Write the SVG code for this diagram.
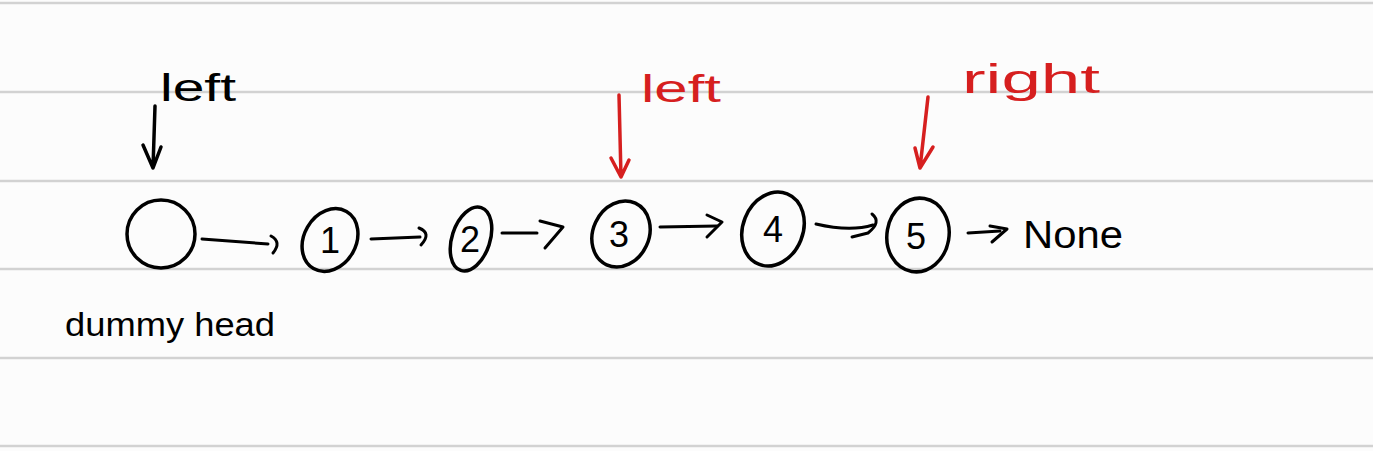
<svg xmlns="http://www.w3.org/2000/svg" width="1373" height="451" viewBox="0 0 1373 451">
<defs>
<style>
.rule{stroke:#d2d2d2;stroke-width:2.5}
.node{fill:none;stroke:#000;stroke-width:3.5}
.num{font-family:"Liberation Sans",sans-serif;font-size:36px;fill:#000;text-anchor:middle}
.hw{font-family:"Liberation Sans",sans-serif;fill:#000}
.red{fill:#d61f1f}
.link{fill:none;stroke:#000;stroke-width:3;stroke-linecap:round;stroke-linejoin:round}
.ptr{fill:none;stroke-width:3.5;stroke-linecap:round;stroke-linejoin:round}
</style>
</defs>
<rect width="1373" height="451" fill="#fcfcfc"/>
<g id="rules">
<line class="rule" x1="0" y1="3" x2="1373" y2="3"/>
<line class="rule" x1="0" y1="92" x2="1373" y2="92"/>
<line class="rule" x1="0" y1="181" x2="1373" y2="181"/>
<line class="rule" x1="0" y1="269" x2="1373" y2="269"/>
<line class="rule" x1="0" y1="358" x2="1373" y2="358"/>
<line class="rule" x1="0" y1="446" x2="1373" y2="446"/>
</g>
<g id="dummy">
<circle class="node" cx="161" cy="234" r="34"/>
<text class="hw" x="65" y="336" font-size="34" textLength="210" lengthAdjust="spacingAndGlyphs">dummy head</text>
</g>
<g id="n1">
<ellipse class="node" cx="330" cy="240" rx="26" ry="33" transform="rotate(30 330 240)"/>
<text class="num" x="330" y="253">1</text>
</g>
<g id="n2">
<ellipse class="node" cx="471" cy="239" rx="19" ry="33" transform="rotate(18 471 239)"/>
<text class="num" x="470" y="252">2</text>
</g>
<g id="n3">
<ellipse class="node" cx="621" cy="234" rx="28" ry="34" transform="rotate(25 621 234)"/>
<text class="num" x="619" y="247">3</text>
</g>
<g id="n4">
<ellipse class="node" cx="773" cy="229" rx="30" ry="38" transform="rotate(22 773 229)"/>
<text class="num" x="773" y="242">4</text>
</g>
<g id="n5">
<ellipse class="node" cx="918" cy="235" rx="31" ry="37" transform="rotate(10 918 235)"/>
<text class="num" x="916" y="249">5</text>
</g>
<g id="none">
<text class="hw" x="1023" y="248" font-size="38" textLength="100" lengthAdjust="spacingAndGlyphs">None</text>
</g>
<g id="connectors">
<path class="link" d="M202 239 L268 244"/>
<path class="link" d="M271 236 Q282 242 273 253"/>
<path class="link" d="M371 239 L420 237"/>
<path class="link" d="M419 228 Q432 233 421 245"/>
<path class="link" d="M502 233 L537 233"/>
<path class="link" d="M540 221 L563 227 L545 248"/>
<path class="link" d="M660 227 L717 226"/>
<path class="link" d="M707 215 L722 222 L707 237"/>
<path class="link" d="M816 224 Q850 232 873 225"/>
<path class="link" d="M872 214 Q882 222 868 233 L852 237"/>
<path class="link" d="M968 233 L1000 231"/>
<path class="link" d="M990 226 L1007 229 L992 242"/>
</g>
<g id="ptr-left-black">
<path class="ptr" stroke="#000" d="M155 106 L153 168 M143 145 L153 168 L161 147"/>
<text class="hw" x="160" y="101" font-size="38" textLength="76" lengthAdjust="spacingAndGlyphs">left</text>
</g>
<g id="ptr-left-red">
<path class="ptr" stroke="#d61f1f" d="M619 95 L621 177 M611 158 L621 177 L629 160"/>
<text class="hw red" x="641" y="102" font-size="38" textLength="80" lengthAdjust="spacingAndGlyphs">left</text>
</g>
<g id="ptr-right-red">
<path class="ptr" stroke="#d61f1f" d="M928 97 L920 168 M915 148 L920 168 L933 147"/>
<text class="hw red" x="962" y="93" font-size="40" textLength="138" lengthAdjust="spacingAndGlyphs">right</text>
</g>
</svg>
